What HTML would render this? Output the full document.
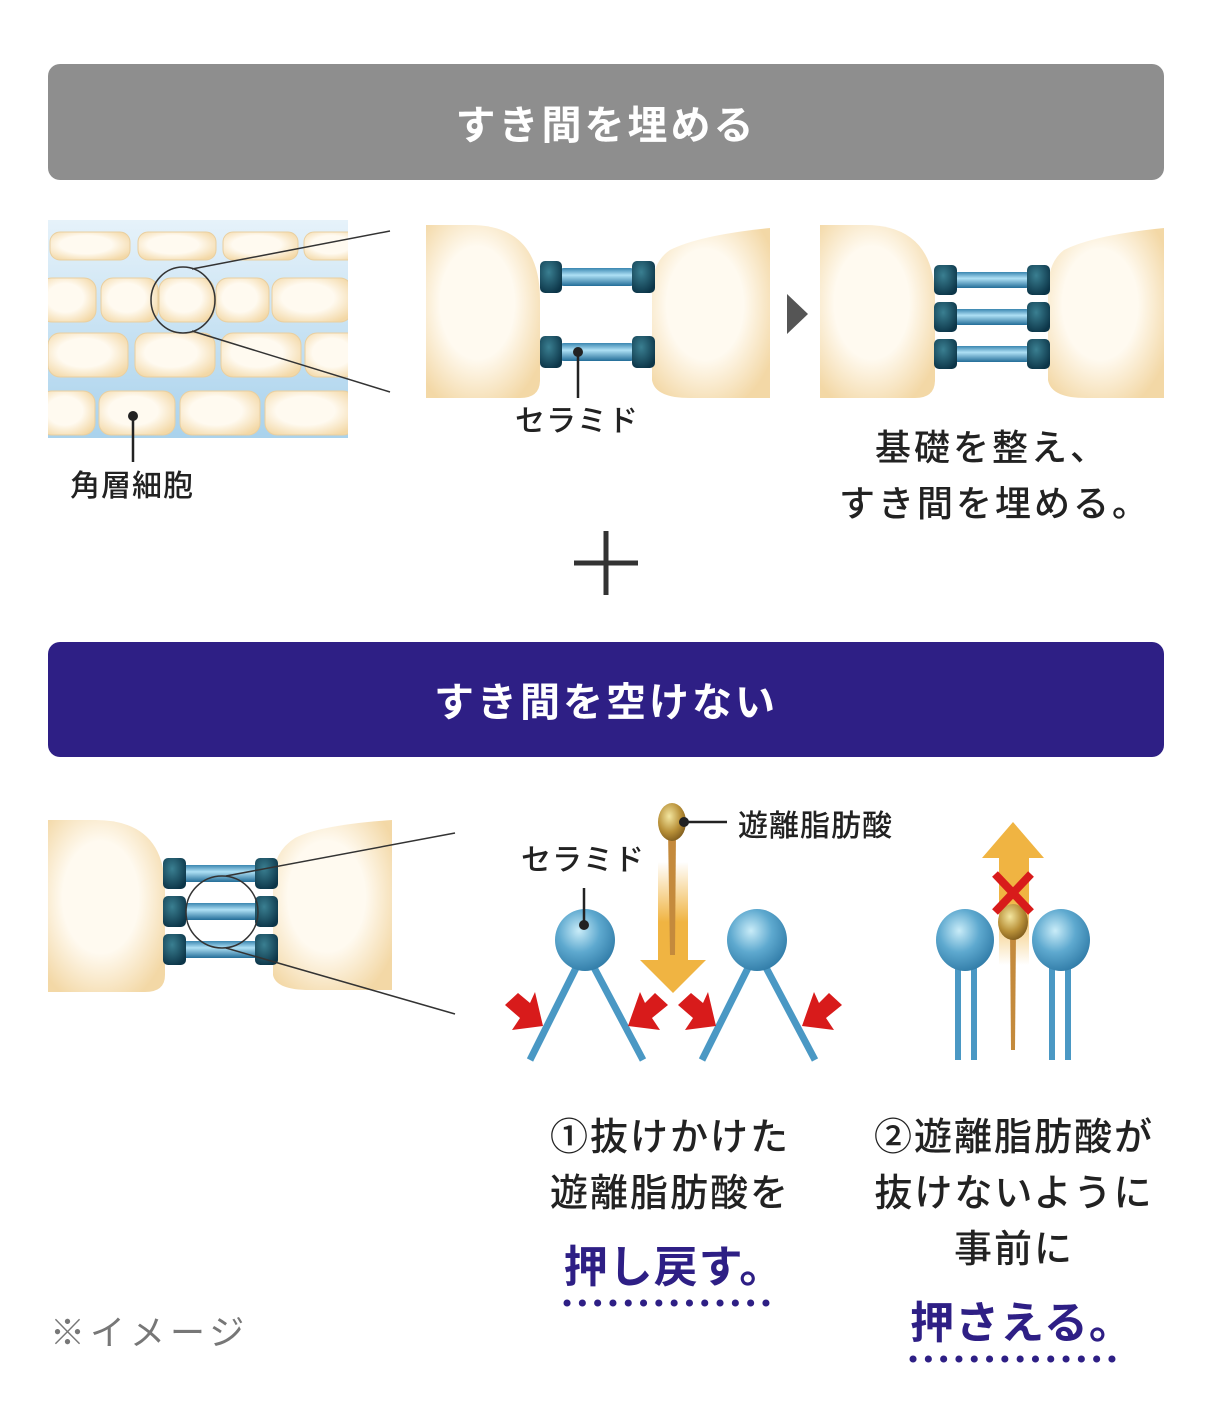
<!DOCTYPE html>
<html><head><meta charset="utf-8">
<style>
html,body{margin:0;padding:0;background:#fff;}
svg{display:block;}
text{font-family:"Liberation Sans","Noto Sans CJK JP",sans-serif;}
</style></head>
<body>
<svg width="1212" height="1424" viewBox="0 0 1212 1424" xmlns="http://www.w3.org/2000/svg">
<defs>
  <radialGradient id="cell" cx="0.45" cy="0.45" r="0.65">
    <stop offset="0.5" stop-color="#fffaf0"/><stop offset="1" stop-color="#f3d8a6"/>
  </radialGradient>
  <linearGradient id="bar" x1="0" y1="0" x2="0" y2="1">
    <stop offset="0" stop-color="#3a86b0"/><stop offset="0.4" stop-color="#aee0f5"/><stop offset="1" stop-color="#236d98"/>
  </linearGradient>
  <radialGradient id="cap" cx="0.4" cy="0.35" r="0.7">
    <stop offset="0" stop-color="#3a7f91"/><stop offset="1" stop-color="#0c3548"/>
  </radialGradient>
  <radialGradient id="ball" cx="0.4" cy="0.35" r="0.7">
    <stop offset="0" stop-color="#c9ecf8"/><stop offset="0.5" stop-color="#5ea9cf"/><stop offset="1" stop-color="#2f7aa6"/>
  </radialGradient>
  <radialGradient id="gold" cx="0.4" cy="0.35" r="0.7">
    <stop offset="0" stop-color="#f3e6a0"/><stop offset="0.6" stop-color="#b89038"/><stop offset="1" stop-color="#7d5a1c"/>
  </radialGradient>
  <linearGradient id="bg" x1="0" y1="0" x2="0" y2="1">
    <stop offset="0" stop-color="#e6f2fa"/><stop offset="1" stop-color="#a9d2ec"/>
  </linearGradient>
  <linearGradient id="arrDown" x1="0" y1="0" x2="0" y2="1">
    <stop offset="0" stop-color="#f0b442" stop-opacity="0"/><stop offset="0.6" stop-color="#f0b442"/>
  </linearGradient>
  <linearGradient id="arrUp" x1="0" y1="1" x2="0" y2="0">
    <stop offset="0" stop-color="#f0b442" stop-opacity="0"/><stop offset="0.6" stop-color="#f0b442"/>
  </linearGradient>
  <clipPath id="bgclip"><rect x="48" y="220" width="300" height="218"/></clipPath>
</defs>

<rect x="48" y="64" width="1116" height="116" rx="12" fill="#8e8e8e"/>
<text x="606" y="139" font-size="40" font-weight="bold" fill="#fff" text-anchor="middle" letter-spacing="3">すき間を埋める</text>

<g clip-path="url(#bgclip)">
  <rect x="48" y="220" width="300" height="218" fill="url(#bg)"/>
  <g fill="url(#cell)" stroke="#e9cfa0" stroke-width="1">
    <rect x="50" y="232" width="80" height="28" rx="10"/>
    <rect x="138" y="232" width="78" height="28" rx="10"/>
    <rect x="223" y="232" width="75" height="28" rx="10"/>
    <rect x="304" y="232" width="60" height="28" rx="10"/>
    <rect x="40" y="278" width="56" height="44" rx="12"/>
    <rect x="101" y="278" width="57" height="44" rx="12"/>
    <rect x="159" y="278" width="55" height="44" rx="12"/>
    <rect x="216" y="278" width="53" height="44" rx="12"/>
    <rect x="272" y="278" width="80" height="44" rx="12"/>
    <rect x="48" y="333" width="80" height="44" rx="12"/>
    <rect x="135" y="333" width="80" height="44" rx="12"/>
    <rect x="221" y="333" width="80" height="44" rx="12"/>
    <rect x="305" y="333" width="60" height="44" rx="12"/>
    <rect x="40" y="391" width="55" height="44" rx="12"/>
    <rect x="99" y="391" width="76" height="44" rx="12"/>
    <rect x="180" y="391" width="80" height="44" rx="12"/>
    <rect x="265" y="391" width="90" height="44" rx="12"/>
  </g>
</g>
<ellipse cx="183" cy="300" rx="32" ry="33" fill="none" stroke="#333" stroke-width="1.5"/>
<line x1="192" y1="269" x2="390" y2="231" stroke="#333" stroke-width="1.5"/>
<line x1="192" y1="331" x2="390" y2="392" stroke="#333" stroke-width="1.5"/>
<circle cx="133" cy="416" r="5" fill="#222"/>
<line x1="133" y1="416" x2="133" y2="462" stroke="#222" stroke-width="2.5"/>
<text x="132" y="496" font-size="30" font-weight="500" fill="#222" text-anchor="middle" letter-spacing="1">角層細胞</text>

<path d="M426 225 H470 Q540 225 540 300 V380 Q540 398 520 398 H426 Z" fill="url(#cell)"/>
<path d="M770 228 Q700 235 670 250 Q652 262 652 290 V380 Q655 398 690 398 H770 Z" fill="url(#cell)"/>
<rect x="558" y="268" width="78" height="18" rx="6" fill="url(#bar)"/>
<rect x="558" y="343" width="78" height="18" rx="6" fill="url(#bar)"/>
<rect x="540" y="261" width="22" height="32" rx="5" fill="url(#cap)"/>
<rect x="632" y="261" width="23" height="32" rx="5" fill="url(#cap)"/>
<rect x="540" y="336" width="22" height="32" rx="5" fill="url(#cap)"/>
<rect x="632" y="336" width="23" height="32" rx="5" fill="url(#cap)"/>
<circle cx="578" cy="352" r="5" fill="#222"/>
<line x1="578" y1="352" x2="578" y2="398" stroke="#222" stroke-width="2.5"/>
<text x="577" y="431" font-size="30" font-weight="500" fill="#222" text-anchor="middle" letter-spacing="1">セラミド</text>

<polygon points="787,294 808,314 787,334" fill="#555"/>

<path d="M820 225 H865 Q935 225 935 300 V380 Q935 398 915 398 H820 Z" fill="url(#cell)"/>
<path d="M1164 228 Q1094 235 1064 250 Q1048 262 1048 290 V380 Q1051 398 1086 398 H1164 Z" fill="url(#cell)"/>
<rect x="952" y="272" width="80" height="16" rx="6" fill="url(#bar)"/>
<rect x="952" y="309" width="80" height="16" rx="6" fill="url(#bar)"/>
<rect x="952" y="346" width="80" height="16" rx="6" fill="url(#bar)"/>
<g fill="url(#cap)">
<rect x="934" y="265" width="23" height="30" rx="5"/><rect x="1027" y="265" width="23" height="30" rx="5"/>
<rect x="934" y="302" width="23" height="30" rx="5"/><rect x="1027" y="302" width="23" height="30" rx="5"/>
<rect x="934" y="339" width="23" height="30" rx="5"/><rect x="1027" y="339" width="23" height="30" rx="5"/>
</g>
<text x="992" y="460" font-size="36" font-weight="500" fill="#222" text-anchor="middle" letter-spacing="3">基礎を整え、</text>
<text x="995" y="516" font-size="36" font-weight="500" fill="#222" text-anchor="middle" letter-spacing="3">すき間を埋める。</text>

<line x1="574" y1="563" x2="638" y2="563" stroke="#333" stroke-width="5"/>
<line x1="606" y1="531" x2="606" y2="595" stroke="#333" stroke-width="5"/>

<rect x="48" y="642" width="1116" height="115" rx="12" fill="#2e1f85"/>
<text x="606" y="716" font-size="40" font-weight="bold" fill="#fff" text-anchor="middle" letter-spacing="3">すき間を空けない</text>

<path d="M48 820 H95 Q165 820 165 890 V975 Q165 992 145 992 H48 Z" fill="url(#cell)"/>
<path d="M392 820 Q320 825 295 838 Q273 852 273 880 V975 Q276 990 310 990 H392 Z" fill="url(#cell)"/>
<rect x="180" y="865" width="80" height="17" rx="6" fill="url(#bar)"/>
<rect x="180" y="903" width="80" height="17" rx="6" fill="url(#bar)"/>
<rect x="180" y="941" width="80" height="17" rx="6" fill="url(#bar)"/>
<g fill="url(#cap)">
<rect x="163" y="858" width="23" height="31" rx="5"/><rect x="255" y="858" width="23" height="31" rx="5"/>
<rect x="163" y="896" width="23" height="31" rx="5"/><rect x="255" y="896" width="23" height="31" rx="5"/>
<rect x="163" y="934" width="23" height="31" rx="5"/><rect x="255" y="934" width="23" height="31" rx="5"/>
</g>
<circle cx="222" cy="912" r="36" fill="none" stroke="#333" stroke-width="1.5"/>
<line x1="226" y1="876" x2="455" y2="833" stroke="#333" stroke-width="1.5"/>
<line x1="226" y1="948" x2="455" y2="1014" stroke="#333" stroke-width="1.5"/>

<rect x="658" y="862" width="30" height="100" fill="url(#arrDown)"/>
<polygon points="640,960 706,960 673,993" fill="#f0b442"/>
<path d="M668 830 L676 830 L675 955 L670 955 Z" fill="#c48a3c"/>
<ellipse cx="672" cy="822" rx="14" ry="19" fill="url(#gold)"/>
<circle cx="684" cy="822" r="5" fill="#222"/>
<line x1="684" y1="822" x2="727" y2="822" stroke="#222" stroke-width="2.5"/>
<text x="738" y="836" font-size="30" font-weight="500" fill="#222" letter-spacing="1">遊離脂肪酸</text>
<text x="583" y="870" font-size="30" font-weight="500" fill="#222" text-anchor="middle" letter-spacing="1">セラミド</text>

<g stroke="#4a98c4" stroke-width="7" stroke-linecap="butt">
<line x1="580" y1="960" x2="530" y2="1060"/><line x1="590" y1="960" x2="643" y2="1060"/>
<line x1="752" y1="960" x2="702" y2="1060"/><line x1="762" y1="960" x2="815" y2="1060"/>
</g>
<ellipse cx="585" cy="940" rx="30" ry="31" fill="url(#ball)"/>
<ellipse cx="757" cy="940" rx="30" ry="31" fill="url(#ball)"/>
<line x1="584" y1="888" x2="584" y2="925" stroke="#222" stroke-width="2.5"/>
<circle cx="584" cy="925" r="5" fill="#222"/>
<g fill="#d81b1b">
<polygon points="505,1005 518,993 530,1003 535,992 543,1026 512,1030 520,1018"/>
<polygon points="668,1005 655,993 645,1003 640,992 628,1026 660,1030 652,1018"/>
<polygon points="678,1005 691,993 703,1003 708,992 716,1026 685,1030 693,1018"/>
<polygon points="842,1005 829,993 819,1003 814,992 802,1026 834,1030 826,1018"/>
</g>

<rect x="999" y="855" width="30" height="110" fill="url(#arrUp)"/>
<polygon points="982,858 1044,858 1013,822" fill="#f0b442"/>
<g stroke="#4a98c4" stroke-width="6">
<line x1="958" y1="960" x2="958" y2="1060"/><line x1="974" y1="960" x2="974" y2="1060"/>
<line x1="1052" y1="960" x2="1052" y2="1060"/><line x1="1068" y1="960" x2="1068" y2="1060"/>
</g>
<path d="M1010 930 L1016 930 L1015 1050 L1011 1050 Z" fill="#c48a3c"/>
<ellipse cx="1013" cy="922" rx="15" ry="18" fill="url(#gold)"/>
<ellipse cx="965" cy="940" rx="29" ry="31" fill="url(#ball)"/>
<ellipse cx="1061" cy="940" rx="29" ry="31" fill="url(#ball)"/>
<g stroke="#d81b1b" stroke-width="8">
<line x1="995" y1="874" x2="1031" y2="912"/><line x1="1031" y1="874" x2="995" y2="912"/>
</g>

<g font-size="38" font-weight="500" fill="#222" text-anchor="middle" letter-spacing="2">
<text x="670" y="1150">①抜けかけた</text>
<text x="670" y="1206">遊離脂肪酸を</text>
<text x="1014" y="1150">②遊離脂肪酸が</text>
<text x="1014" y="1206">抜けないように</text>
<text x="1014" y="1262">事前に</text>
</g>
<g font-size="44" font-weight="bold" fill="#2e1f85" text-anchor="middle" letter-spacing="1">
<text x="674" y="1282">押し戻す。</text>
<text x="1022" y="1338">押さえる。</text>
</g>
<line x1="567" y1="1303" x2="780" y2="1303" stroke="#2e1f85" stroke-width="7" stroke-dasharray="0.1 15.2" stroke-linecap="round"/>
<line x1="913" y1="1359" x2="1126" y2="1359" stroke="#2e1f85" stroke-width="7" stroke-dasharray="0.1 15.2" stroke-linecap="round"/>

<text x="50" y="1345" font-size="35" fill="#777" letter-spacing="5">※イメージ</text>
</svg>
</body></html>
